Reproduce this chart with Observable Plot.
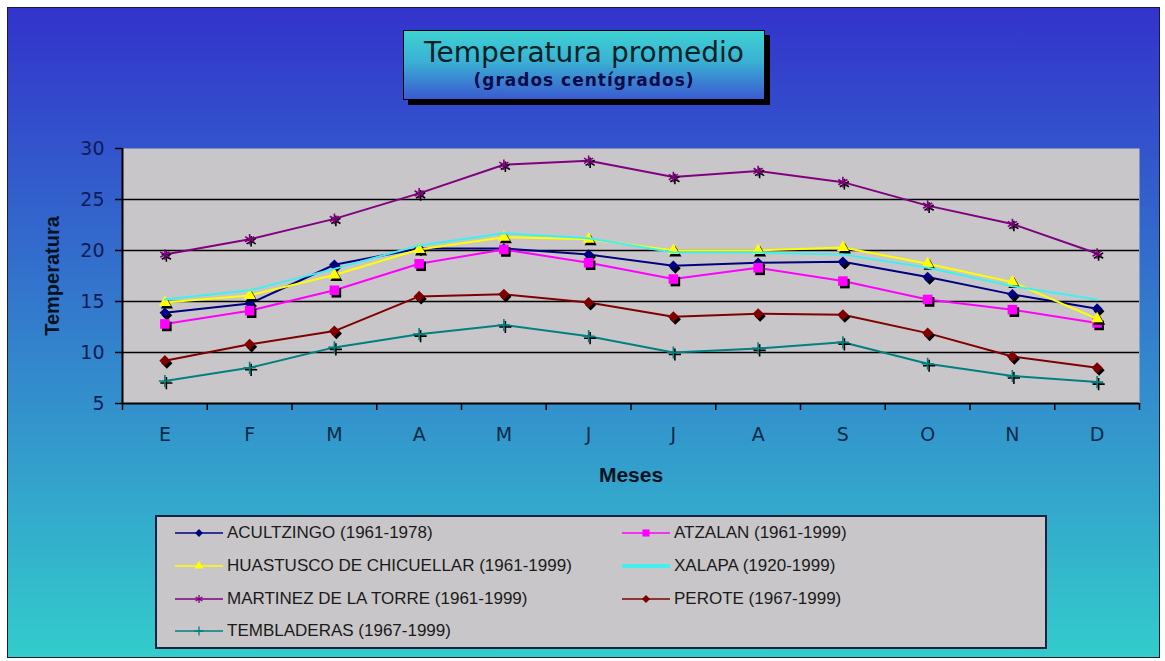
<!DOCTYPE html>
<html>
<head>
<meta charset="utf-8">
<script src="https://cdn.jsdelivr.net/npm/d3@7"></script>
<script src="https://cdn.jsdelivr.net/npm/@observablehq/plot@0.6"></script>
<style>
  html, body { margin: 0; padding: 0; background: #fff; }
  #page { position: relative; width: 1165px; height: 661px; overflow: hidden; background: #fff; }
  #frame { position: absolute; left: 7px; top: 7px; width: 1151px; height: 649px;
    border: 1px solid #1a1a40;
    background: linear-gradient(to bottom, #3333cc 0%, #33cccc 100%); }
  #titlebox { position: absolute; left: 403px; top: 30px; width: 360px; height: 68px;
    border: 1px solid #000; box-shadow: 5px 5px 0 #000;
    background: linear-gradient(to bottom, #3dd2d2 0%, #3bb0d4 45%, #3a5ad0 100%);
    text-align: center; font-family: "DejaVu Sans", sans-serif; }
  #title { margin-top: 6px; font-size: 28px; color: #042226; line-height: 32px; }
  #subtitle { font-size: 17px; font-weight: bold; color: #0a0a4a; letter-spacing: 1px; line-height: 22px; }
  #chart { position: absolute; left: 0; top: 130px; }
  .axlabel { position: absolute; font-family: "Liberation Sans", Arial, sans-serif; font-weight: bold; color: #06121e; }
  #ylab { left: 52px; top: 276px; transform: translate(-50%, -50%) rotate(-90deg); font-size: 20px; white-space: nowrap; }
  #xlab { left: 631px; top: 475px; transform: translate(-50%, -50%); font-size: 21px; }
  #legend { position: absolute; left: 155px; top: 515px; width: 888px; height: 130px;
    border: 2px solid #1a2040; background: #c8c6c8; }
  .item { position: absolute; display: flex; align-items: center; height: 24px;
    font-family: "Liberation Sans", Arial, sans-serif; font-size: 17px; color: #1a1a1a; white-space: nowrap; }
  .item svg { margin-right: 4px; }
</style>
</head>
<body>
<div id="page">
  <div id="frame"></div>
  <div id="titlebox"><div id="title">Temperatura promedio</div><div id="subtitle">(grados centígrados)</div></div>
  <div id="chart"></div>
  <div class="axlabel" id="ylab">Temperatura</div>
  <div class="axlabel" id="xlab">Meses</div>
  <div id="legend"></div>
</div>
<script>
// ---- data ----
const months = ["E", "F", "M", "A", "M", "J", "J", "A", "S", "O", "N", "D"];
const yTicks = [5, 10, 15, 20, 25, 30];
const stations = [
  "ACULTZINGO (1961-1978)",
  "ATZALAN (1961-1999)",
  "HUASTUSCO DE CHICUELLAR (1961-1999)",
  "XALAPA (1920-1999)",
  "MARTINEZ DE LA TORRE (1961-1999)",
  "PEROTE (1967-1999)",
  "TEMBLADERAS (1967-1999)"
];
const acultzingo  = [13.9, 14.8, 18.6, 20.2, 20.2, 19.6, 18.5, 18.8, 18.9, 17.4, 15.7, 14.3];
const atzalan     = [12.8, 14.1, 16.1, 18.7, 20.1, 18.8, 17.2, 18.3, 17.0, 15.2, 14.2, 12.9];
const huastusco   = [14.9, 15.6, 17.6, 20.1, 21.3, 21.1, 20.0, 20.0, 20.3, 18.7, 16.9, 13.3];
const xalapa      = [15.2, 16.1, 18.2, 20.5, 21.7, 21.2, 19.8, 19.8, 19.6, 18.3, 16.5, 15.2];
const martinez    = [19.6, 21.1, 23.1, 25.6, 28.4, 28.8, 27.2, 27.8, 26.7, 24.4, 22.6, 19.7];
const perote      = [9.2, 10.8, 12.1, 15.5, 15.7, 14.9, 13.5, 13.8, 13.7, 11.9, 9.6, 8.5];
const tembladeras = [7.2, 8.5, 10.5, 11.8, 12.7, 11.6, 10.0, 10.4, 11.0, 8.9, 7.7, 7.1];

const values = [acultzingo, atzalan, huastusco, xalapa, martinez, perote, tembladeras];
const colors = ["#000080", "#ff00ff", "#ffff00", "#40f0f0", "#800080", "#800000", "#008080"];
// marker: [symbol, filled?, r]
const markers = [
  ["diamond2", true, 4.8],
  ["square", true, 5.4],
  ["triangle", true, 4.5],
  [null, false, 0],
  ["asterisk", false, 5],
  ["diamond2", true, 5],
  ["plus", false, 4]
];

const rows = [];
stations.forEach((s, k) => values[k].forEach((t, i) => rows.push({station: s, k, i, t})));

const marks = [
  Plot.frame({fill: "#c8c6c8", stroke: "none"}),
  Plot.ruleY([10, 15, 20, 25], {stroke: "#000", strokeWidth: 1.6}),
  Plot.axisY({ticks: yTicks, tickSize: 7, tickPadding: 11, fontSize: 19, fill: "#0e1c58", stroke: "#000", strokeWidth: 1.5, label: null}),
  Plot.axisX({ticks: d3.range(-0.5, 12, 1), tickSize: 7, tickFormat: () => "", stroke: "#000", strokeWidth: 1.5, label: null}),
  Plot.axisX({ticks: d3.range(12), tickSize: 0, tickPadding: 24, tickFormat: i => months[i], fontSize: 19, fill: "#0a2a48", label: null})
];

stations.forEach((s, k) => {
  const d = rows.filter(r => r.k === k);
  marks.push(Plot.line(d, {x: "i", y: "t", stroke: colors[k], strokeWidth: 2}));
  const [sym, filled, r] = markers[k];
  if (sym) {
    if (filled) {
      marks.push(Plot.dot(d, {x: "i", y: "t", symbol: sym, r, fill: "#000", stroke: "none", dx: 2, dy: 2.5}));
      marks.push(Plot.dot(d, {x: "i", y: "t", symbol: sym, r, fill: colors[k], stroke: "none"}));
    } else {
      marks.push(Plot.dot(d, {x: "i", y: "t", symbol: sym, r, stroke: "#000", strokeWidth: 1.6, fill: "none", dx: 1.5, dy: 2}));
      marks.push(Plot.dot(d, {x: "i", y: "t", symbol: sym, r, stroke: colors[k], strokeWidth: 1.6, fill: "none"}));
    }
  }
});

marks.push(Plot.ruleY([5], {stroke: "#000", strokeWidth: 2}));
marks.push(Plot.ruleX([-0.5], {stroke: "#000", strokeWidth: 2}));

const chart = Plot.plot({
  width: 1165,
  height: 370,
  marginLeft: 122,
  marginRight: 26,
  marginTop: 18,
  marginBottom: 97,
  style: {background: "transparent", fontFamily: "DejaVu Sans, sans-serif", overflow: "visible"},
  x: {type: "linear", domain: [-0.5, 11.5], axis: null},
  y: {domain: [5, 30], axis: null},
  marks
});
document.getElementById("chart").appendChild(chart);

// ---- legend ----
const d3sym = {diamond2: d3.symbolDiamond2, square: d3.symbolSquare, triangle: d3.symbolTriangle, asterisk: d3.symbolAsterisk, plus: d3.symbolPlus};
const legend = d3.select("#legend");
const pos = [[18, 4], [465, 4], [18, 37], [465, 37], [18, 70], [465, 70], [18, 102]];
stations.forEach((s, k) => {
  const item = legend.append("div").attr("class", "item")
    .style("left", pos[k][0] + "px").style("top", pos[k][1] + "px");
  const svg = item.append("svg").attr("width", 48).attr("height", 20);
  const [sym, filled, r] = markers[k];
  svg.append("line").attr("x1", 0).attr("x2", 48).attr("y1", 10).attr("y2", 10)
    .attr("stroke", colors[k]).attr("stroke-width", k === 3 ? 4 : 1.6);
  if (sym) {
    const size = Math.PI * r * r * 0.55;
    const p = svg.append("path").attr("transform", "translate(24,10)")
      .attr("d", d3.symbol(d3sym[sym], size)());
    if (filled) p.attr("fill", colors[k]);
    else p.attr("fill", "none").attr("stroke", colors[k]).attr("stroke-width", 1.3);
  }
  item.append("span").text(s);
});
</script>
</body>
</html>
